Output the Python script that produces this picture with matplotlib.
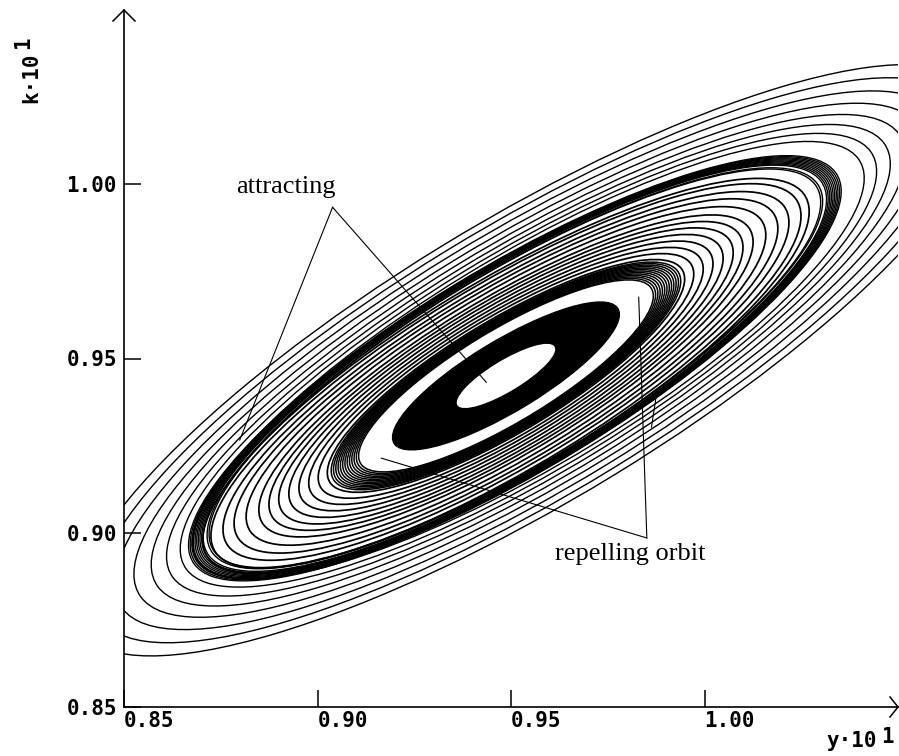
import matplotlib
matplotlib.use("Agg")
import matplotlib.pyplot as plt
from matplotlib.patches import Ellipse

# ---- data (units: y*10^1 on x axis, k*10^1 on y axis) ----
inner_center = (0.9487, 0.9450)          # centre of the inner orbits
band_center = (0.9510, 0.9472)           # centre of the outer attracting band
outer_center = (0.9545, 0.9495)          # centre of the outermost loops
tilt_deg = 34.2                          # tilt of the orbits in data space
axis_ratio = 0.285                       # minor / major semi-axis

hole_a = 0.0151      # inner white hole (semi-major)
filled_a = 0.0348    # solid black attracting region (semi-major)

# semi-major axes of the drawn orbit loops
inner_dense_a = [0.0452, 0.0459, 0.0466, 0.0473, 0.0480, 0.0487, 0.0494,
                 0.0501, 0.0508, 0.0515, 0.0522, 0.0529, 0.0536]
mid_a = [0.0548, 0.0576, 0.0605, 0.0635, 0.0666, 0.0697, 0.0727, 0.0758,
         0.0797, 0.0834, 0.0868, 0.0905, 0.0930]
band_a = [0.0938, 0.0944, 0.0956, 0.0961, 0.0966, 0.0971, 0.0976, 0.0981,
          0.0986, 0.0991, 0.0996, 0.1001]
outer_a = [0.1030, 0.1068, 0.1110, 0.1157, 0.1210, 0.1268, 0.1330, 0.1392]

xticks = [0.85, 0.90, 0.95, 1.00]
yticks = [0.85, 0.90, 0.95, 1.00]
xtick_labels = ["0.85", "0.90", "0.95", "1.00"]
ytick_labels = ["0.85", "0.90", "0.95", "1.00"]

# annotation pointers (data coords)
attr_text = (0.8789, 0.9974)
attr_apex = (0.9039, 0.9934)
attr_ends = [(0.8799, 0.9266), (0.9436, 0.9432)]
rep_text = (0.9613, 0.8923)
rep_apex = (0.9851, 0.8985)
rep_ends = [(0.9830, 0.9676), (0.9165, 0.9214)]
rep_extra = [(0.9863, 0.9303), (0.9876, 0.9398)]

# ---- figure ----
W, H = 899, 756
fig = plt.figure(figsize=(W / 100, H / 100), dpi=100)
ax = fig.add_axes([124 / W, (H - 707) / H, (898 - 124) / W, (707 - 10) / H])
ax.set_xlim(0.85, 1.05)
ax.set_ylim(0.85, 1.05)


def loops(center, radii, lw):
    for a in radii:
        ax.add_patch(Ellipse(center, 2 * a, 2 * a * axis_ratio, angle=tilt_deg,
                             fill=False, edgecolor="black", linewidth=lw, zorder=1))


loops(inner_center, inner_dense_a, 1.1)
loops(inner_center, mid_a, 1.25)
loops(band_center, band_a, 1.0)
loops(outer_center, outer_a, 1.0)

ax.add_patch(Ellipse(inner_center, 2 * filled_a, 2 * filled_a * axis_ratio,
                     angle=tilt_deg, facecolor="black", edgecolor="black",
                     linewidth=1.0, zorder=2))
ax.add_patch(Ellipse(inner_center, 2 * hole_a, 2 * hole_a * axis_ratio,
                     angle=tilt_deg, facecolor="white", edgecolor="white",
                     linewidth=0, zorder=3))

for e in attr_ends:
    ax.plot([attr_apex[0], e[0]], [attr_apex[1], e[1]], color="black", lw=0.8, zorder=4)
for e in rep_ends:
    ax.plot([rep_apex[0], e[0]], [rep_apex[1], e[1]], color="black", lw=0.8, zorder=4)
ax.plot([rep_extra[0][0], rep_extra[1][0]], [rep_extra[0][1], rep_extra[1][1]],
        color="black", lw=0.8, zorder=4)

ax.text(attr_text[0], attr_text[1], "attracting", family="Liberation Serif",
        fontsize=19, ha="left", va="baseline", zorder=5)
ax.text(rep_text[0], rep_text[1], "repelling orbit", family="Liberation Serif",
        fontsize=19, ha="left", va="baseline", zorder=5)

# ---- axes styling ----
for s in ["top", "right"]:
    ax.spines[s].set_visible(False)
for s in ["left", "bottom"]:
    ax.spines[s].set_linewidth(1.2)
ax.set_xticks(xticks)
ax.set_yticks(yticks)
ax.set_xticklabels(xtick_labels)
ax.set_yticklabels(ytick_labels)
ax.tick_params(direction="in", length=12, width=1.1, labelsize=15, pad=3)
ax.tick_params(axis="y", pad=5)
for lab in ax.get_xticklabels():
    lab.set_ha("left")
    lab.set_family("DejaVu Sans Mono")
    lab.set_weight("bold")
for lab in ax.get_yticklabels():
    lab.set_family("DejaVu Sans Mono")
    lab.set_weight("bold")

# arrow heads (open chevrons)
dx, dy = 8 / 774, 10 / 697
ax.plot([1 - dx, 1, 1 - dx], [dy, 0, -dy], transform=ax.transAxes,
        color="black", lw=1.1, clip_on=False)
dx2, dy2 = 11 / 774, 11 / 697
ax.plot([-dx2, 0, dx2], [1 - dy2, 1, 1 - dy2], transform=ax.transAxes,
        color="black", lw=1.1, clip_on=False)

# axis labels
mono = dict(family="DejaVu Sans Mono", weight="bold")
fig.text(31 / W, 1 - 78 / H, "k·10", rotation=90, ha="center", va="center",
         fontsize=15, **mono)
fig.text(23 / W, 1 - 43 / H, "1", rotation=90, ha="center", va="center",
         fontsize=15, **mono)
fig.text(826 / W, 1 - 747 / H, "y·10", ha="left", va="baseline", fontsize=15, **mono)
fig.text(881 / W, 1 - 743 / H, "1", ha="left", va="baseline", fontsize=15, **mono)

fig.savefig("out.png", dpi=100)
